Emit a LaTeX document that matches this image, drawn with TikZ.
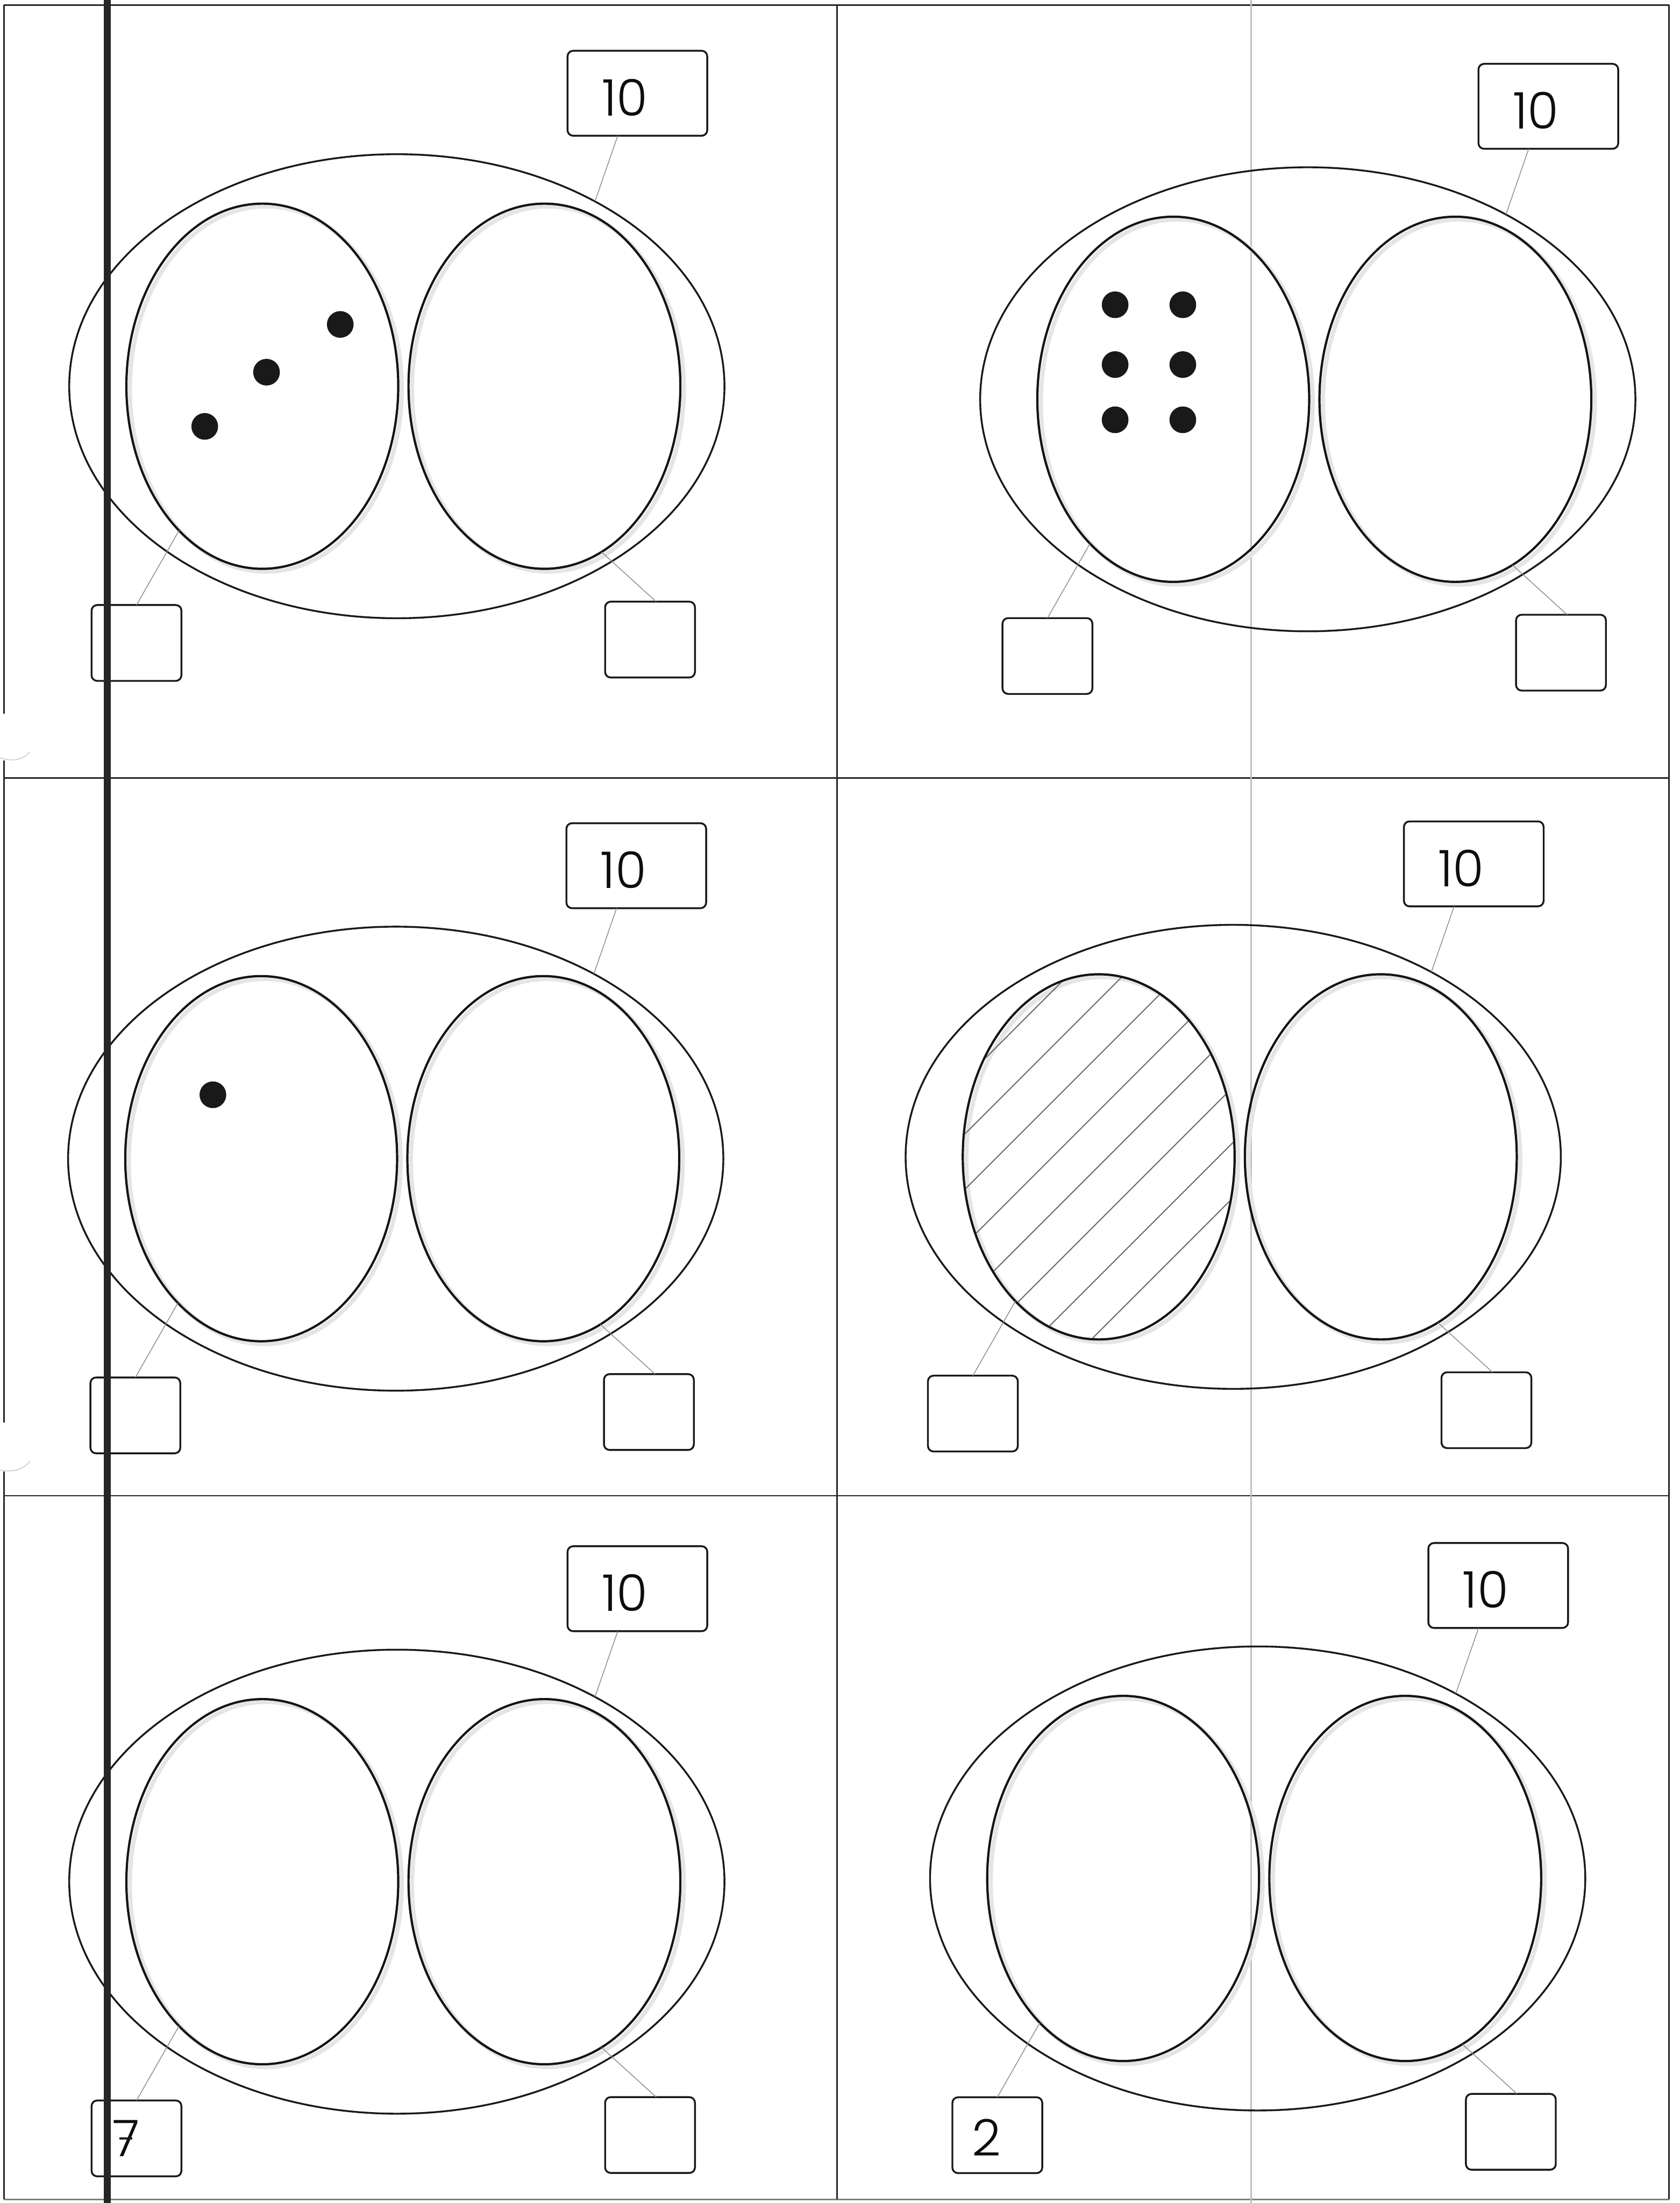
\documentclass[tikz,border=0pt]{standalone}
\usepackage{fontspec}
\newfontfamily\numfont{Poppins}[UprightFont={* Light}]
\usetikzlibrary{shapes.geometric,calc}
\tikzset{
  outerell/.style={ellipse, draw=black!90, line width=1.3pt, minimum width=466.6pt, minimum height=330.4pt, inner sep=0pt, outer sep=0pt},
  innerell/.style={ellipse, draw=black!92, line width=1.6pt, minimum width=193.6pt, minimum height=260pt, inner sep=0pt, outer sep=0pt},
  shadowline/.style={draw=black!10, line width=3pt},
  numbox/.style={draw=black!90, line width=1.3pt, rounded corners=4pt, minimum width=99.5pt, minimum height=60.5pt, inner sep=0pt, outer sep=0pt},
  ansbox/.style={draw=black!90, line width=1.3pt, rounded corners=4pt, minimum width=64pt, minimum height=54pt, inner sep=0pt, outer sep=0pt},
  digit/.style={font=\numfont\fontsize{36}{40}\selectfont, inner sep=0pt, text=black!95},
  leader/.style={draw=black!45, line width=0.55pt},
  dotmark/.style={circle, fill=black!90, minimum size=19pt, inner sep=0pt, outer sep=0pt},
  gridline/.style={draw=black!85, line width=1.05pt},
  paleline/.style={draw=black!25, line width=1pt},
  hatchline/.style={draw=black!60, line width=0.75pt},
  artifact/.style={draw=black!20, line width=0.6pt}
}
\begin{document}
\begin{tikzpicture}[x=1pt,y=-1pt]
\useasboundingbox (0,0) rectangle (1196,1568.6);
\fill[white] (0,0) rectangle (1196,1568.6);

% grid
\draw[gridline] (2.8,3.5) -- (1188.6,3.5);
\draw[gridline] (2.8,554) -- (1188.6,554);
\draw[gridline] (2.8,1065) -- (1188.6,1065);
\draw[gridline, draw=black!50] (2.8,1566) -- (1188.6,1566);
\draw[gridline] (1188.6,3.5) -- (1188.6,1566);
\draw[gridline] (596,3.5) -- (596,1566);
\draw[gridline] (2.8,3.5) -- (2.8,508);
\draw[gridline] (2.8,541.6) -- (2.8,1012.8);
\draw[gridline] (2.8,1047.8) -- (2.8,1566);
\draw[paleline] (891,0) -- (891,1568.6);
\draw[artifact] (0,539.6) .. controls (10,543) and (18,540) .. (21.2,535.2);
\draw[artifact] (0,1046.7) .. controls (10,1049) and (18,1045) .. (21.2,1040.4);

% panels
\foreach \i/\x/\y in {1/282.6/275, 2/931.3/284.3, 3/281.8/825, 4/878.2/823.7, 5/282.6/1339.8, 6/895.6/1337.5}{
  \draw[shadowline] (\x-95.8+2.5,\y+2) ellipse [x radius=96.8, y radius=130];
  \draw[shadowline] (\x+105.1+2.5,\y+2) ellipse [x radius=96.8, y radius=130];
  \node[outerell] (o\i) at (\x,\y) {};
  \node[innerell] (l\i) at (\x-95.8,\y) {};
  \node[innerell] (r\i) at (\x+105.1,\y) {};
  \node[numbox] (t\i) at (\x+171.3,\y-208.6) {};
  \node[digit] (d\i) at (\x+162.3,\y-205.6) {10};
  \node[ansbox] (a\i) at (\x-185.4,\y+182.8) {};
  \node[ansbox] (b\i) at (\x+180.3,\y+180.4) {};
  \draw[leader] ($(t\i.south)+(-14,0)$) -- (o\i.43);
  \draw[leader] (a\i.north) -- (l\i.240);
  \draw[leader] ($(b\i.north)+(4.4,0)$) -- (r\i.289);
}

% hatching in panel 4
\begin{scope}
  \clip (l4.center) ellipse [x radius=96, y radius=129.2];
  \foreach \c in {-151,-111.6,...,125}{
    \draw[hatchline] ($(l4.center)+(\c/2-200,\c/2+200)$) -- ($(l4.center)+(\c/2+200,\c/2-200)$);
  }
\end{scope}

% dots
\node[dotmark] (p1) at (242.3,231) {};
\node[dotmark] (p2) at (189.8,265) {};
\node[dotmark] (p3) at (145.8,303.6) {};
\node[dotmark] (q1) at (794.1,217) {};
\node[dotmark] (q2) at (842.3,217) {};
\node[dotmark] (q3) at (794.1,259.6) {};
\node[dotmark] (q4) at (842.3,259.6) {};
\node[dotmark] (q5) at (794.1,298.9) {};
\node[dotmark] (q6) at (842.3,298.9) {};
\node[dotmark] (s1) at (151.6,779.5) {};

% answers
\node[digit] (n7) at (89.9,1522.6) {7};
\draw[black!90, line width=1.2pt] ($(n7.center)+(-4.8,0)$) -- ($(n7.center)+(4.4,0)$);
\node[digit] (n2) at (702.6,1522) {2};

% thick margin line
\draw[line width=5pt, black!85] (76.5,0) -- (76.5,1568.6);
\end{tikzpicture}
\end{document}
